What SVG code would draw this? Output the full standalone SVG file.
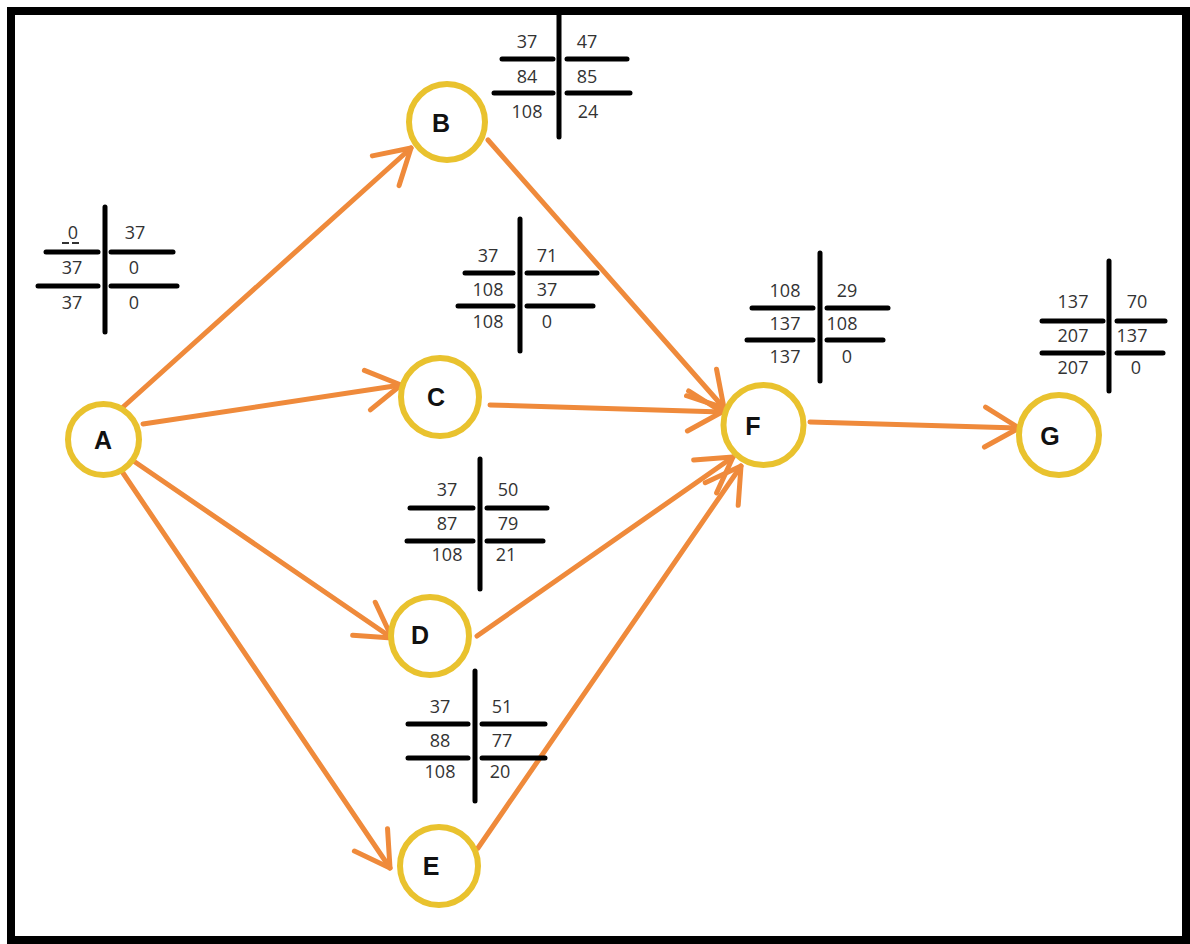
<svg xmlns="http://www.w3.org/2000/svg" width="1190" height="944" viewBox="0 0 1190 944">
<style>
.node{fill:#fff;stroke:#e9c22e;stroke-width:6}
.lbl{font-family:"Liberation Sans",Arial,sans-serif;font-weight:bold;font-size:25px;fill:#111;text-anchor:middle}
.num{font-family:"Open Sans","Liberation Sans",sans-serif;font-size:18px;fill:#333;text-anchor:middle}
.tl{stroke:#000;stroke-width:5;stroke-linecap:round;fill:none}
.edge{stroke:#ef8a3b;stroke-width:5;stroke-linecap:round;fill:none;marker-end:url(#arr)}
</style>
<defs>
<marker id="arr" markerUnits="userSpaceOnUse" markerWidth="50" markerHeight="50" viewBox="-45 -25 50 50" refX="0" refY="0" orient="auto" overflow="visible">
<path d="M-34,-20 L0,0 L-34,20" fill="none" stroke="#ef8a3b" stroke-width="5" stroke-linecap="round" stroke-linejoin="round"/>
</marker>
</defs>
<rect x="0" y="0" width="1190" height="944" fill="#fff"/>
<rect x="11" y="11" width="1175" height="929" fill="none" stroke="#000" stroke-width="8"/>

<g id="connectors">
<line class="edge" x1="122" y1="408" x2="411" y2="148"/>
<line class="edge" x1="143" y1="424" x2="401" y2="385"/>
<line class="edge" x1="135" y1="462" x2="392" y2="638"/>
<line class="edge" x1="123" y1="473" x2="390" y2="868"/>
<line class="edge" x1="488" y1="140" x2="724" y2="408"/>
<line class="edge" x1="490" y1="405" x2="722" y2="412"/>
<line class="edge" x1="477" y1="636" x2="733" y2="457"/>
<line class="edge" x1="478" y1="848" x2="741" y2="466"/>
<line class="edge" x1="810" y1="422" x2="1019" y2="428"/>
</g>

<g id="node-A">
<circle class="node" cx="103.5" cy="439.5" r="35.5"/>
<text class="lbl" x="103" y="449">A</text>
<line class="tl" x1="105" y1="207" x2="105" y2="332"/>
<line class="tl" x1="46" y1="252" x2="98" y2="252"/>
<line class="tl" x1="111" y1="252" x2="173" y2="252"/>
<line class="tl" x1="38" y1="286" x2="98" y2="286"/>
<line class="tl" x1="111" y1="286" x2="177" y2="286"/>
<text class="num" x="73" y="239">0</text>
<line x1="62" y1="243" x2="81" y2="243" stroke="#333" stroke-width="2" stroke-dasharray="7,3"/>
<text class="num" x="135" y="239">37</text>
<text class="num" x="72" y="274">37</text>
<text class="num" x="134" y="274">0</text>
<text class="num" x="72" y="309">37</text>
<text class="num" x="134" y="309">0</text>
</g>

<g id="node-B">
<circle class="node" cx="447" cy="122" r="38"/>
<text class="lbl" x="441" y="132">B</text>
<line class="tl" x1="559" y1="12" x2="559" y2="137"/>
<line class="tl" x1="502" y1="59" x2="553" y2="59"/>
<line class="tl" x1="567" y1="59" x2="627" y2="59"/>
<line class="tl" x1="494" y1="93" x2="553" y2="93"/>
<line class="tl" x1="567" y1="93" x2="630" y2="93"/>
<text class="num" x="527" y="48">37</text>
<text class="num" x="587" y="48">47</text>
<text class="num" x="527" y="83">84</text>
<text class="num" x="587" y="83">85</text>
<text class="num" x="527" y="118">108</text>
<text class="num" x="588" y="118">24</text>
</g>

<g id="node-C">
<circle class="node" cx="440" cy="397" r="39"/>
<text class="lbl" x="436" y="406">C</text>
<line class="tl" x1="520" y1="219" x2="520" y2="351"/>
<line class="tl" x1="465" y1="273" x2="513" y2="273"/>
<line class="tl" x1="527" y1="273" x2="597" y2="273"/>
<line class="tl" x1="458" y1="306" x2="513" y2="306"/>
<line class="tl" x1="527" y1="306" x2="593" y2="306"/>
<text class="num" x="488" y="262">37</text>
<text class="num" x="547" y="262">71</text>
<text class="num" x="488" y="296">108</text>
<text class="num" x="547" y="296">37</text>
<text class="num" x="488" y="328">108</text>
<text class="num" x="547" y="328">0</text>
</g>

<g id="node-D">
<circle class="node" cx="430" cy="636" r="39"/>
<text class="lbl" x="420" y="644">D</text>
<line class="tl" x1="480" y1="459" x2="480" y2="589"/>
<line class="tl" x1="410" y1="508" x2="473" y2="508"/>
<line class="tl" x1="487" y1="508" x2="547" y2="508"/>
<line class="tl" x1="407" y1="541" x2="473" y2="541"/>
<line class="tl" x1="487" y1="541" x2="543" y2="541"/>
<text class="num" x="447" y="496">37</text>
<text class="num" x="508" y="496">50</text>
<text class="num" x="447" y="530">87</text>
<text class="num" x="508" y="530">79</text>
<text class="num" x="447" y="561">108</text>
<text class="num" x="506" y="561">21</text>
</g>

<g id="node-E">
<circle class="node" cx="439" cy="866" r="39"/>
<text class="lbl" x="431" y="875">E</text>
<line class="tl" x1="475" y1="671" x2="475" y2="801"/>
<line class="tl" x1="408" y1="724" x2="468" y2="724"/>
<line class="tl" x1="482" y1="724" x2="545" y2="724"/>
<line class="tl" x1="408" y1="758" x2="468" y2="758"/>
<line class="tl" x1="482" y1="758" x2="545" y2="758"/>
<text class="num" x="440" y="713">37</text>
<text class="num" x="502" y="713">51</text>
<text class="num" x="440" y="747">88</text>
<text class="num" x="502" y="747">77</text>
<text class="num" x="440" y="778">108</text>
<text class="num" x="500" y="778">20</text>
</g>

<g id="node-F">
<circle class="node" cx="763.5" cy="425" r="40"/>
<text class="lbl" x="753" y="435">F</text>
<line class="tl" x1="820" y1="253" x2="820" y2="381"/>
<line class="tl" x1="752" y1="308" x2="813" y2="308"/>
<line class="tl" x1="827" y1="308" x2="888" y2="308"/>
<line class="tl" x1="747" y1="340" x2="813" y2="340"/>
<line class="tl" x1="827" y1="340" x2="883" y2="340"/>
<text class="num" x="785" y="297">108</text>
<text class="num" x="847" y="297">29</text>
<text class="num" x="785" y="330">137</text>
<text class="num" x="842" y="330">108</text>
<text class="num" x="785" y="363">137</text>
<text class="num" x="847" y="363">0</text>
</g>

<g id="node-G">
<circle class="node" cx="1059" cy="435" r="40"/>
<text class="lbl" x="1050" y="445">G</text>
<line class="tl" x1="1109" y1="261" x2="1109" y2="391"/>
<line class="tl" x1="1042" y1="321" x2="1103" y2="321"/>
<line class="tl" x1="1117" y1="321" x2="1165" y2="321"/>
<line class="tl" x1="1042" y1="353" x2="1103" y2="353"/>
<line class="tl" x1="1117" y1="353" x2="1163" y2="353"/>
<text class="num" x="1073" y="308">137</text>
<text class="num" x="1137" y="308">70</text>
<text class="num" x="1073" y="342">207</text>
<text class="num" x="1132" y="342">137</text>
<text class="num" x="1073" y="374">207</text>
<text class="num" x="1136" y="374">0</text>
</g>
</svg>
